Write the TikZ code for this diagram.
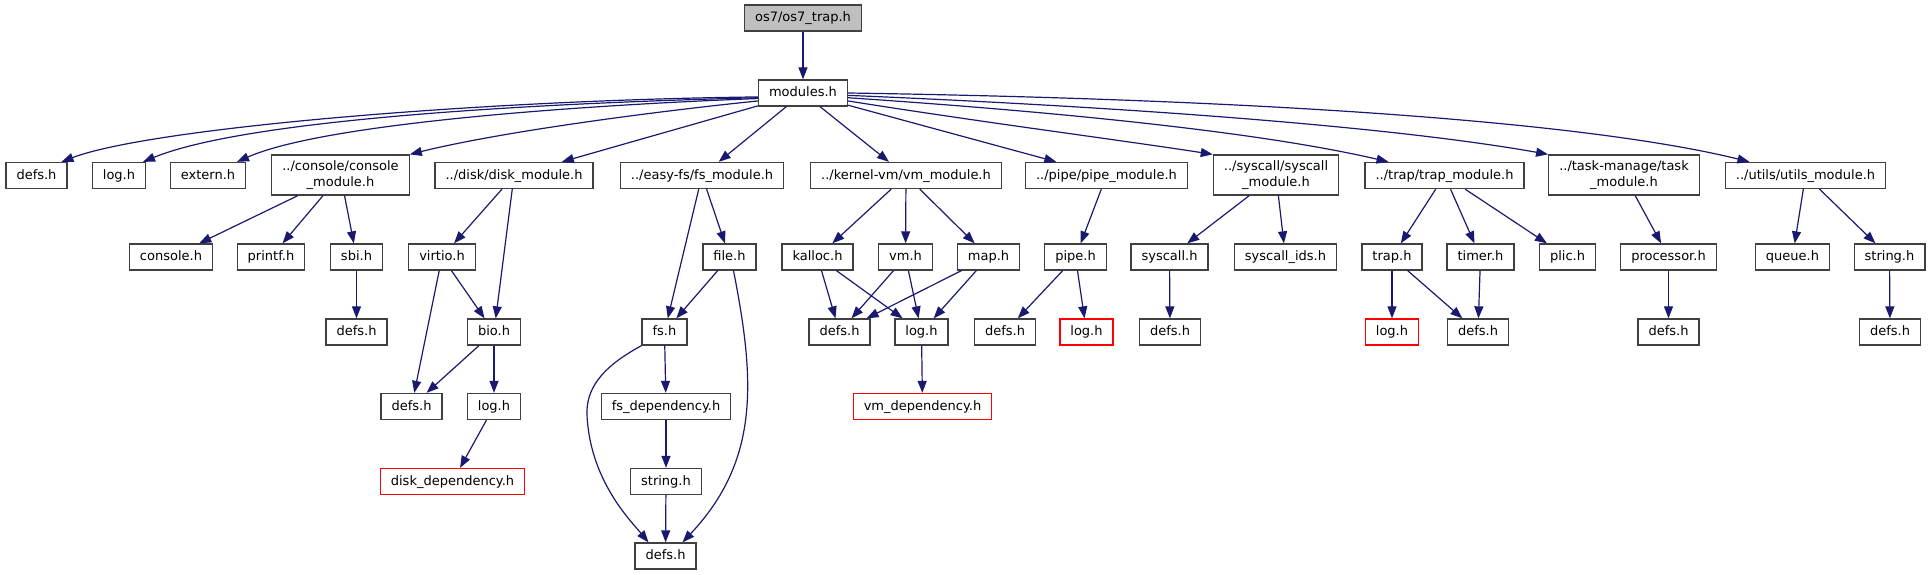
\documentclass[tikz,border=0pt]{standalone}
\usepackage{fontspec}
\setmainfont{DejaVu Sans}
\usetikzlibrary{arrows.meta}
\definecolor{midblue}{RGB}{25,25,112}
\tikzset{
    link/.style={
        ->,>={Triangle[length=12pt,width=9pt]},
        line width=1.2pt,
        midblue
    },
    hfile/.style={
        draw=black!75,
        line width=1.3pt,
        fill=white,
        minimum height=26pt,
        inner xsep=10.5pt,
        text height=10pt,
        text depth=3pt
    },
    hroot/.style={hfile, fill=gray!50},
    hmissing/.style={hfile, draw=red},
    htwo/.style={hfile, align=center, minimum height=40pt, text height={}, text depth={}},
    every edge/.append style={
        draw,
        link
    }
}

\begin{document}
\begin{tikzpicture}[x=1pt, y=-1pt, font=\fontsize{13}{16}\selectfont]
    \useasboundingbox (0,0) rectangle (1931,575);

    \node[hroot] (root) at (803,18) {os7/os7\_trap.h};
    \node[hfile] (mod) at (803,93) {modules.h};

    % modules
    \node[hfile] (defsA) at (36.5,175.5) {defs.h};
    \node[hfile] (logA) at (119,175.5) {log.h};
    \node[hfile] (ext) at (208,175.5) {extern.h};
    \node[htwo] (con) at (340.5,175) {../console/console\\\_module.h};
    \node[hfile] (disk) at (514,175.5) {../disk/disk\_module.h};
    \node[hfile] (fsm) at (702,175.5) {../easy-fs/fs\_module.h};
    \node[hfile] (vmm) at (906,175.5) {../kernel-vm/vm\_module.h};
    \node[hfile] (pipem) at (1106.5,175.5) {../pipe/pipe\_module.h};
    \node[htwo] (sysm) at (1276,175) {../syscall/syscall\\\_module.h};
    \node[hfile] (trapm) at (1444.5,175.5) {../trap/trap\_module.h};
    \node[htwo] (taskm) at (1624,175) {../task-manage/task\\\_module.h};
    \node[hfile] (utilm) at (1805.5,175.5) {../utils/utils\_module.h};

    % second level
    \node[hfile] (conh) at (171,257) {console.h};
    \node[hfile] (printf) at (271,257) {printf.h};
    \node[hfile] (sbi) at (356.5,257) {sbi.h};
    \node[hfile] (virtio) at (442,257) {virtio.h};
    \node[hfile] (file) at (729.5,257) {file.h};
    \node[hfile] (kalloc) at (817.5,257) {kalloc.h};
    \node[hfile] (vmh) at (905.5,257) {vm.h};
    \node[hfile] (map) at (988.5,257) {map.h};
    \node[hfile] (pipe) at (1075.5,257) {pipe.h};
    \node[hfile] (sysh) at (1169.5,257) {syscall.h};
    \node[hfile] (sysid) at (1285.5,257) {syscall\_ids.h};
    \node[hfile] (trap) at (1392,257) {trap.h};
    \node[hfile] (timer) at (1480.5,257) {timer.h};
    \node[hfile] (plic) at (1567.5,257) {plic.h};
    \node[hfile] (proc) at (1668.5,257) {processor.h};
    \node[hfile] (queue) at (1792.5,257) {queue.h};
    \node[hfile] (strU) at (1889.5,257) {string.h};

    \node[hfile] (defsSbi) at (356.5,332) {defs.h};
    \node[hfile] (bio) at (494,332) {bio.h};
    \node[hfile] (fs) at (664.5,332) {fs.h};
    \node[hfile] (defsV) at (839.5,332) {defs.h};
    \node[hfile] (logV) at (921.5,332) {log.h};
    \node[hfile] (defsP) at (1005,332) {defs.h};
    \node[hmissing] (logP) at (1086.5,332) {log.h};
    \node[hfile] (defsS) at (1170,332) {defs.h};
    \node[hmissing] (logT) at (1392,332) {log.h};
    \node[hfile] (defsT) at (1478,332) {defs.h};
    \node[hfile] (defsPr) at (1668.5,332) {defs.h};
    \node[hfile] (defsU) at (1890,332) {defs.h};

    \node[hfile] (defsD) at (411.5,406.5) {defs.h};
    \node[hfile] (logD) at (494,406.5) {log.h};
    \node[hfile] (fsdep) at (666,406.5) {fs\_dependency.h};
    \node[hmissing] (vmdep) at (922.5,406.5) {vm\_dependency.h};

    \node[hmissing] (diskdep) at (452.5,481.5) {disk\_dependency.h};
    \node[hfile] (strF) at (666,481.5) {string.h};
    \node[hfile] (defsF) at (665.5,556) {defs.h};

    \draw (root) edge (mod);

    % long bends out of modules.h
    \draw[link] (mod.185) .. controls (480,100) and (150,128) .. ([xshift=25pt]defsA.north);
    \draw[link] (mod.186) .. controls (500,104) and (240,122) .. ([xshift=24pt]logA.north);
    \draw[link] (mod.187) .. controls (560,106) and (320,125) .. ([xshift=29pt]ext.north);
    \draw[link] (mod.190) .. controls (650,112) and (500,132) .. (con.north east);
    \draw (mod) edge (disk) edge (fsm) edge (vmm) edge (pipem);
    \draw[link] (mod.-10) .. controls (980,122) and (1120,140) .. (sysm.north west);
    \draw[link] (mod.-6) .. controls (1060,112) and (1260,132) .. ([xshift=-56pt]trapm.north);
    \draw[link] (mod.-3) .. controls (1150,108) and (1400,128) .. (taskm.north west);
    \draw[link] (mod.east) .. controls (1300,100) and (1600,125) .. ([xshift=-56pt]utilm.north);

    \draw (con) edge (conh) edge (printf) edge (sbi);
    \draw (sbi) edge (defsSbi);
    \draw (disk) edge (virtio) edge (bio);
    \draw (virtio) edge (bio) edge (defsD);
    \draw (bio) edge (defsD) edge (logD);
    \draw (logD) edge (diskdep);

    \draw (fsm) edge (file) edge (fs);
    \draw (file) edge (fs);
    \draw[link] ([xshift=4pt]file.south) .. controls (755,380) and (760,460) .. ([xshift=17pt]defsF.north);
    \draw[link] (fs.south west) .. controls (600,368) and (586,390) .. (587,415)
        .. controls (590,480) and (630,520) .. ([xshift=-17pt]defsF.north);
    \draw (fs) edge (fsdep);
    \draw (fsdep) edge (strF);
    \draw (strF) edge (defsF);

    \draw (vmm) edge (kalloc) edge (vmh) edge (map);
    \draw (kalloc) edge (defsV) edge (logV);
    \draw (vmh) edge (defsV) edge (logV);
    \draw (map) edge (defsV) edge (logV);
    \draw (logV) edge (vmdep);

    \draw (pipem) edge (pipe);
    \draw (pipe) edge (defsP) edge (logP);
    \draw (sysm) edge (sysh) edge (sysid);
    \draw (sysh) edge (defsS);
    \draw (trapm) edge (trap) edge (timer) edge (plic);
    \draw (trap) edge (logT) edge (defsT);
    \draw (timer) edge (defsT);
    \draw (taskm) edge (proc);
    \draw (proc) edge (defsPr);
    \draw (utilm) edge (queue) edge (strU);
    \draw (strU) edge (defsU);
\end{tikzpicture}
\end{document}
